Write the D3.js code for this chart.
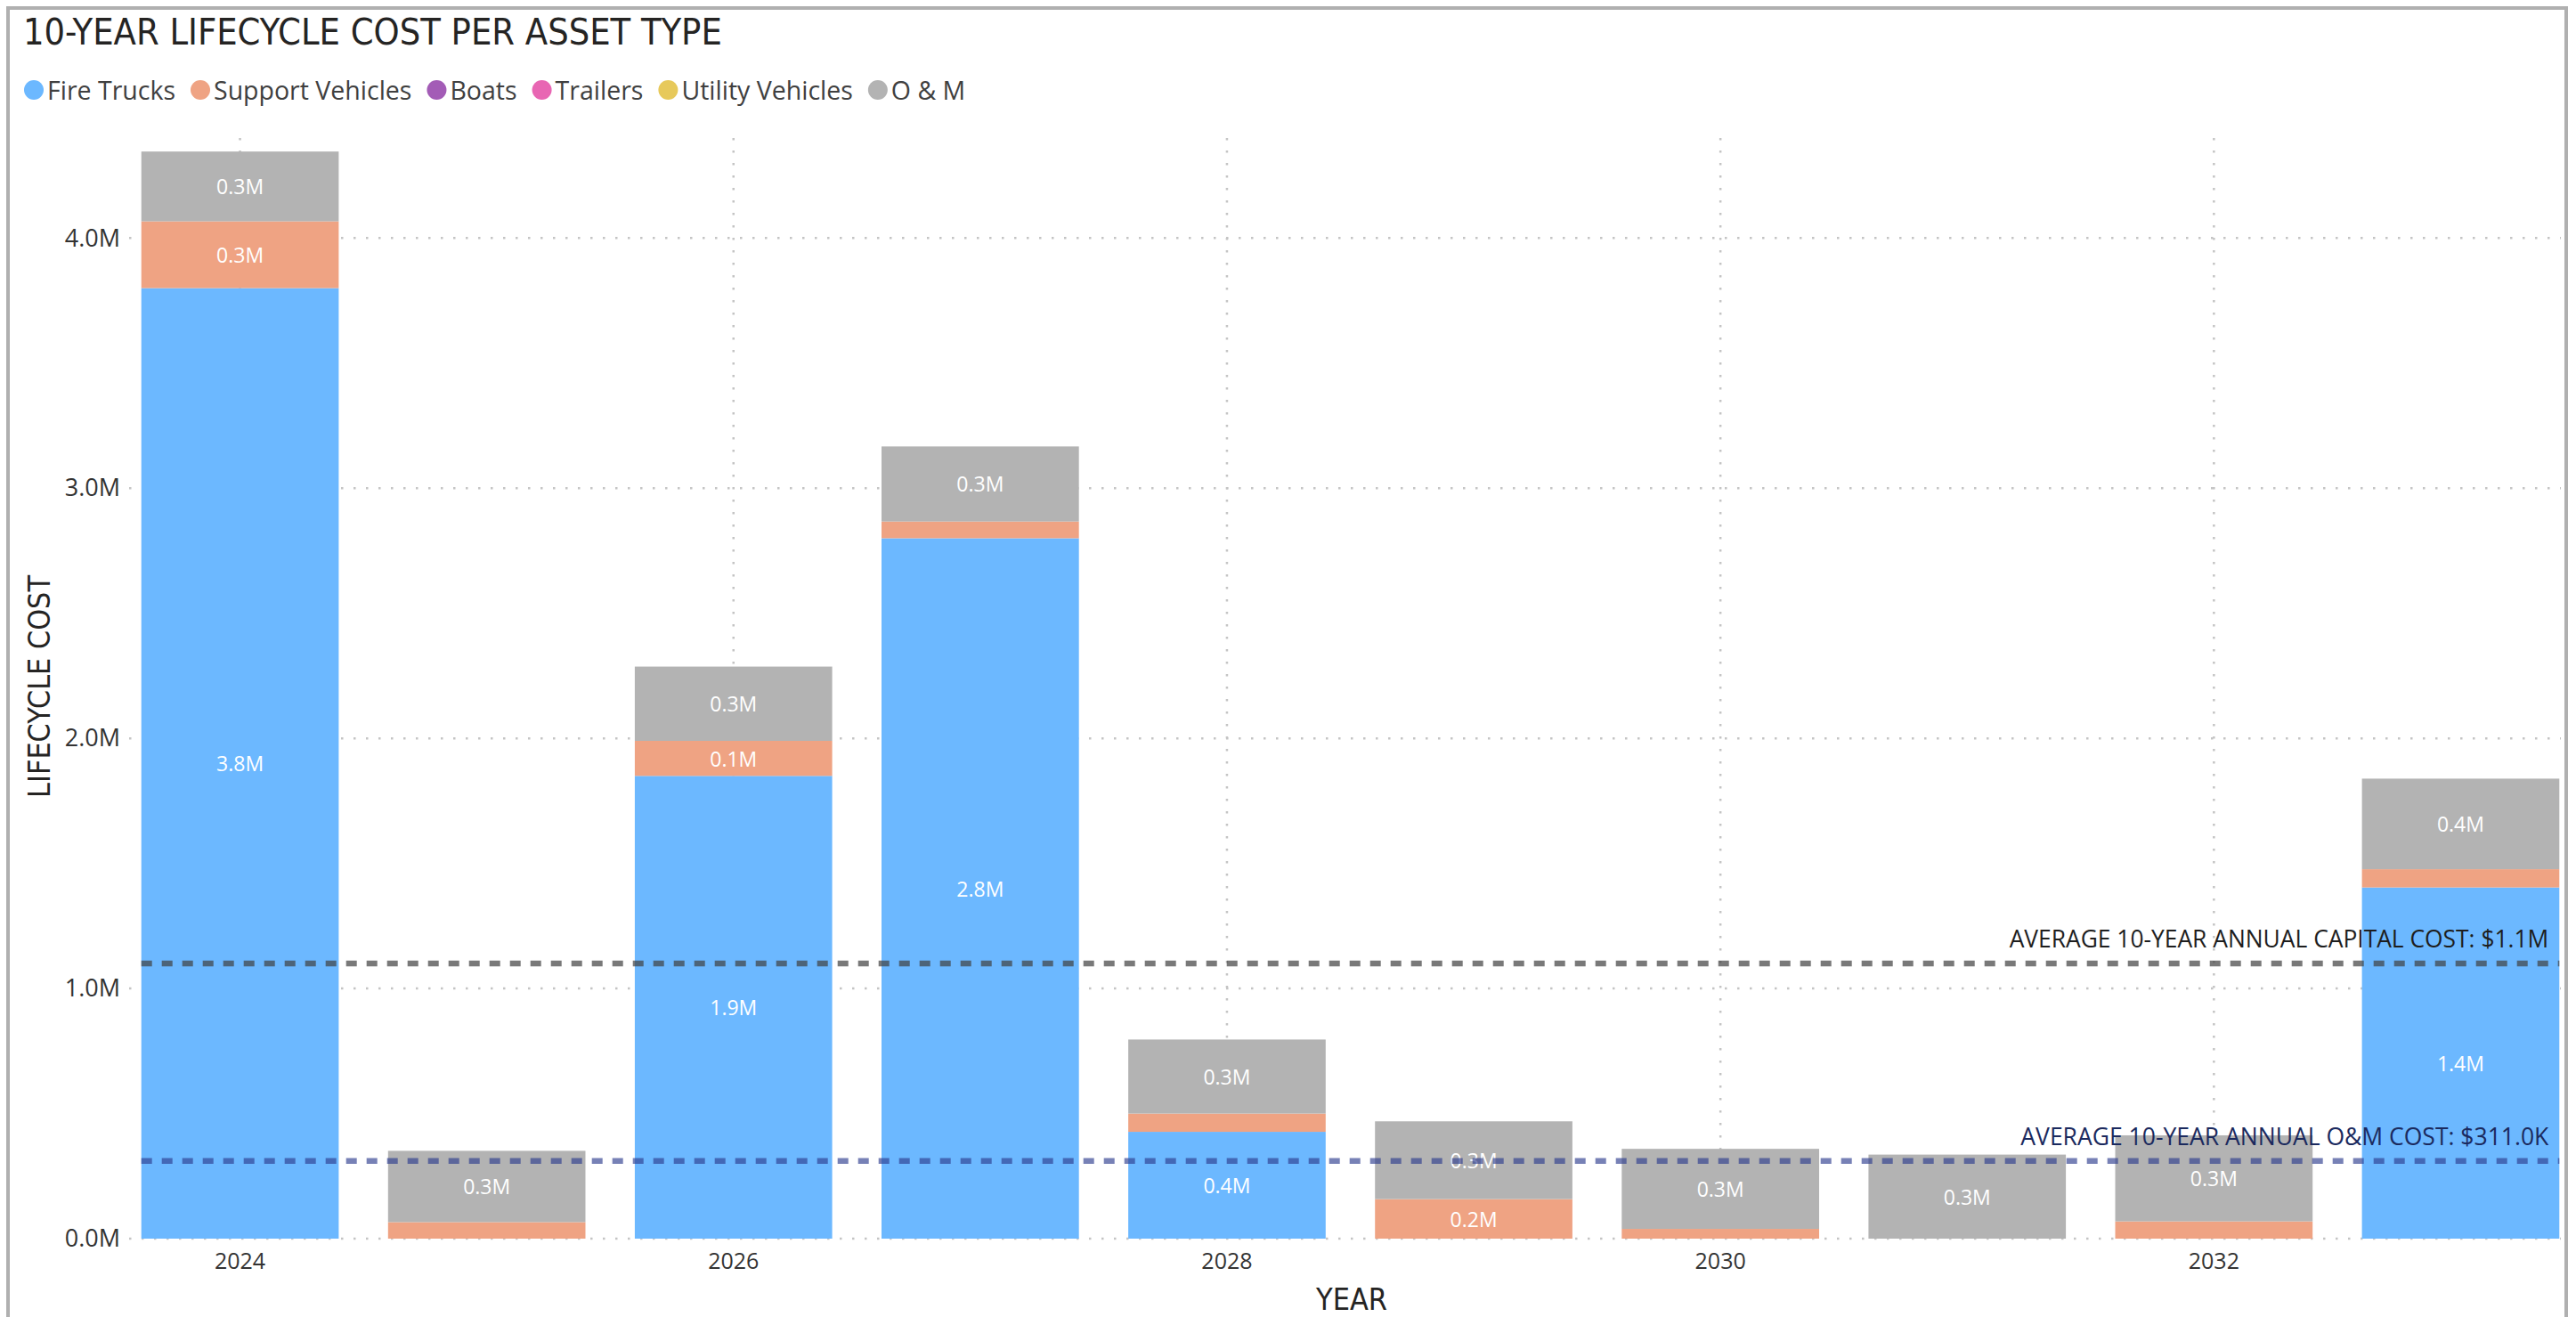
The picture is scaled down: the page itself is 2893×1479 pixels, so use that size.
<!DOCTYPE html>
<html>
<head>
<meta charset="utf-8">
<script src="https://cdn.jsdelivr.net/npm/d3@7"></script>
<style>
  html, body { margin: 0; padding: 0; background: #ffffff; }
  svg { display: block; }
</style>
</head>
<body>
<svg id="chart" width="2893" height="1479"></svg>
<script>
// ---- data (US dollars) ----
const years = [2024, 2025, 2026, 2027, 2028, 2029, 2030, 2031, 2032, 2033];
const fireTrucks      = [3800000, 0, 1850000, 2800000, 427000, 0, 0, 0, 0, 1404000];
const supportVehicles = [267000, 66000, 140000, 67000, 73000, 158000, 39000, 0, 69000, 73000];
const boats           = [0, 0, 0, 0, 0, 0, 0, 0, 0, 0];
const trailers        = [0, 0, 0, 0, 0, 0, 0, 0, 0, 0];
const utilityVehicles = [0, 0, 0, 0, 0, 0, 0, 0, 0, 0];
const operationsMaint = [279000, 285000, 297000, 300000, 296000, 311000, 320000, 336000, 344000, 362000];

const seriesNames  = ["Fire Trucks", "Support Vehicles", "Boats", "Trailers", "Utility Vehicles", "O & M"];
const seriesValues = [fireTrucks, supportVehicles, boats, trailers, utilityVehicles, operationsMaint];
const seriesColors = ["#6CB8FF", "#EFA383", "#A35CB6", "#E866B3", "#E7C95B", "#B3B3B3"];

const yTickValues = [0, 1000000, 2000000, 3000000, 4000000];
const xTickYears  = [2024, 2026, 2028, 2030, 2032];

const averageCapital = 1100000;
const averageOM      = 311000;

const chartTitle = "10-YEAR LIFECYCLE COST PER ASSET TYPE";
const yAxisTitle = "LIFECYCLE COST";
const xAxisTitle = "YEAR";

// ---- formatting ----
const fmtM = v => (v / 1e6).toFixed(1) + "M";
const fmtK = v => (v / 1e3).toFixed(1) + "K";
const capitalLabel = "AVERAGE 10-YEAR ANNUAL CAPITAL COST: $" + fmtM(averageCapital);
const omLabel      = "AVERAGE 10-YEAR ANNUAL O&M COST: $" + fmtK(averageOM);

const bodyFont = "'Segoe UI', 'Open Sans', 'Noto Sans', sans-serif";
const headFont = "'DIN', 'Liberation Sans Narrow', 'DejaVu Sans Condensed', Roboto, sans-serif";

// scale a text's font size so that it spans the given width
function fitWidth(sel, width) {
  const fs = parseFloat(sel.attr("font-size"));
  const w = sel.node().getComputedTextLength();
  if (w > 0) sel.attr("font-size", fs * width / w);
  return sel;
}

// ---- table for stacking ----
const table = years.map((yr, i) => {
  const row = { year: yr };
  seriesNames.forEach((n, k) => row[n] = seriesValues[k][i]);
  return row;
});
const stacked = d3.stack().keys(seriesNames)(table);

const svg = d3.select("#chart");

// ---- scales ----
const x = d3.scaleBand()
  .domain(years)
  .range([131, 2902])
  .paddingInner(0.2)
  .paddingOuter(0.1);

const y = d3.scaleLinear()
  .domain([0, 4400000])
  .range([1391, 155]);

const color = d3.scaleOrdinal().domain(seriesNames).range(seriesColors);

const barLeft  = x(years[0]);
const barRight = x(years[years.length - 1]) + x.bandwidth();

// ---- frame ----
svg.append("path")
  .attr("d", "M9,1479 L9,9 L2882,9 L2882,1479")
  .attr("fill", "none")
  .attr("stroke", "#b0b0b0")
  .attr("stroke-width", 4);

// ---- title ----
const title = svg.append("text")
  .attr("x", 26).attr("y", 50)
  .attr("font-family", headFont)
  .attr("font-size", 40)
  .attr("fill", "#252423")
  .text(chartTitle);
fitWidth(title, 785);

// ---- legend ----
const legend = svg.append("g").attr("transform", "translate(0,101)");
let lx = 27;
seriesNames.forEach((n, k) => {
  legend.append("circle")
    .attr("cx", lx + 11).attr("cy", 0).attr("r", 11)
    .attr("fill", seriesColors[k]);
  const t = legend.append("text")
    .attr("x", lx + 26).attr("y", 0)
    .attr("dominant-baseline", "central")
    .attr("font-family", bodyFont)
    .attr("font-size", 28.5)
    .attr("fill", "#404040")
    .text(n);
  lx += 26 + t.node().getComputedTextLength() + 17;
});

// ---- gridlines ----
const grid = svg.append("g");
grid.selectAll("line.h")
  .data(yTickValues)
  .join("line")
  .attr("class", "h")
  .attr("x1", 145).attr("x2", 2876)
  .attr("y1", d => y(d)).attr("y2", d => y(d))
  .attr("stroke", "#c4c4c4")
  .attr("stroke-width", 2.5)
  .attr("stroke-dasharray", "2.5,11.5");

grid.selectAll("line.v")
  .data(xTickYears)
  .join("line")
  .attr("class", "v")
  .attr("x1", d => x(d) + x.bandwidth() / 2)
  .attr("x2", d => x(d) + x.bandwidth() / 2)
  .attr("y1", y.range()[1]).attr("y2", y(0))
  .attr("stroke", "#c4c4c4")
  .attr("stroke-width", 2.5)
  .attr("stroke-dasharray", "2.5,11.5");

// ---- bars ----
const layers = svg.append("g").selectAll("g")
  .data(stacked)
  .join("g")
  .attr("fill", d => color(d.key));

layers.selectAll("rect")
  .data(d => d)
  .join("rect")
  .attr("x", d => x(d.data.year))
  .attr("width", x.bandwidth())
  .attr("y", d => y(d[1]))
  .attr("height", d => Math.max(0, y(d[0]) - y(d[1])));

// ---- segment labels ----
const labelG = svg.append("g");
stacked.forEach(layer => {
  layer.forEach(seg => {
    const v = seg[1] - seg[0];
    if (v < 100000) return;
    labelG.append("text")
      .attr("x", x(seg.data.year) + x.bandwidth() / 2)
      .attr("y", (y(seg[0]) + y(seg[1])) / 2)
      .attr("text-anchor", "middle")
      .attr("dominant-baseline", "central")
      .attr("font-family", bodyFont)
      .attr("font-size", 23)
      .attr("fill", "#ffffff")
      .text(fmtM(v));
  });
});

// ---- y axis ----
const yAxis = svg.append("g")
  .attr("transform", "translate(135,0)")
  .call(d3.axisLeft(y).tickValues(yTickValues).tickFormat(fmtM).tickSize(0).tickPadding(0));
yAxis.select(".domain").remove();
yAxis.selectAll("text")
  .attr("font-family", bodyFont)
  .attr("font-size", 27)
  .attr("fill", "#333333");

const yTitle = svg.append("text")
  .attr("transform", "translate(56,771) rotate(-90)")
  .attr("text-anchor", "middle")
  .attr("font-family", headFont)
  .attr("font-size", 34)
  .attr("fill", "#252423")
  .text(yAxisTitle);
fitWidth(yTitle, 250);

// ---- x axis ----
const xAxis = svg.append("g")
  .attr("transform", "translate(0,1391)")
  .call(d3.axisBottom(x).tickValues(xTickYears).tickSize(0).tickPadding(0));
xAxis.select(".domain").remove();
xAxis.selectAll("text")
  .attr("dy", null)
  .attr("y", 34)
  .attr("font-family", bodyFont)
  .attr("font-size", 25)
  .attr("fill", "#333333");

const xTitle = svg.append("text")
  .attr("x", 1518).attr("y", 1471)
  .attr("text-anchor", "middle")
  .attr("font-family", headFont)
  .attr("font-size", 33)
  .attr("fill", "#252423")
  .text(xAxisTitle);
fitWidth(xTitle, 80);

// ---- average lines ----
const avgG = svg.append("g");
avgG.append("line")
  .attr("x1", barLeft).attr("x2", barRight)
  .attr("y1", y(averageCapital)).attr("y2", y(averageCapital))
  .attr("stroke", "#404040")
  .attr("stroke-opacity", 0.7)
  .attr("stroke-width", 6.5)
  .attr("stroke-dasharray", "12,11");
avgG.append("line")
  .attr("x1", barLeft).attr("x2", barRight)
  .attr("y1", y(averageOM)).attr("y2", y(averageOM))
  .attr("stroke", "#2E3D8F")
  .attr("stroke-opacity", 0.65)
  .attr("stroke-width", 6.5)
  .attr("stroke-dasharray", "12,11");

const capText = avgG.append("text")
  .attr("x", barRight - 12).attr("y", y(averageCapital) - 18)
  .attr("text-anchor", "end")
  .attr("font-family", bodyFont)
  .attr("font-size", 26)
  .attr("fill", "#1e1e1e")
  .text(capitalLabel);
fitWidth(capText, 606);

const omText = avgG.append("text")
  .attr("x", barRight - 12).attr("y", y(averageOM) - 18)
  .attr("text-anchor", "end")
  .attr("font-family", bodyFont)
  .attr("font-size", 26)
  .attr("fill", "#1B2A5E")
  .text(omLabel);
fitWidth(omText, 593);
</script>
</body>
</html>
